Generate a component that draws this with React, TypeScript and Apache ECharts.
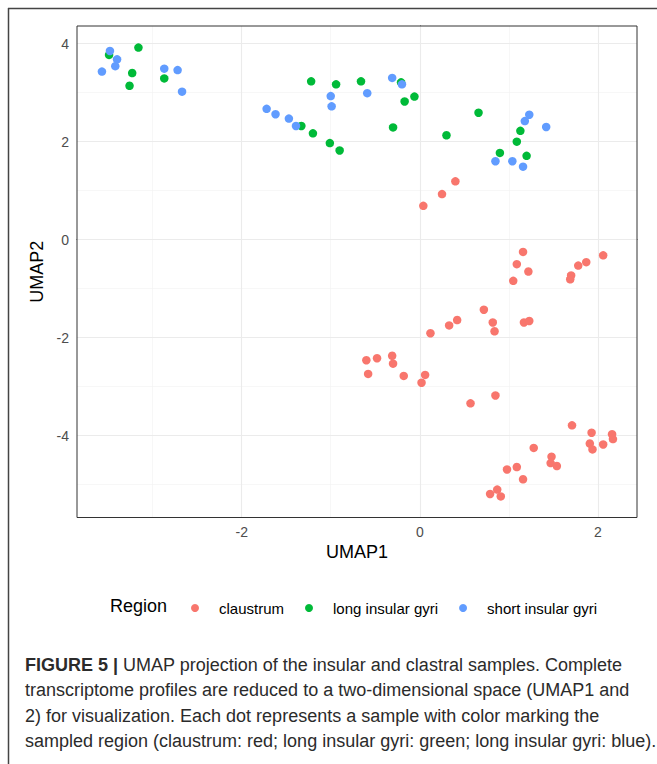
import React, { useEffect, useRef } from 'react';
import * as echarts from 'echarts';

const regions = ['claustrum', 'long insular gyri', 'short insular gyri'];
const regionColors = ['#F8766D', '#00BA38', '#619CFF'];

const claustrum: [number, number][] = [
  [0.04, 0.69], [0.25, 0.93], [0.40, 1.19],
  [1.16, -0.25], [1.09, -0.50], [1.22, -0.65], [1.05, -0.84],
  [1.70, -0.73], [1.69, -0.81], [1.78, -0.53], [1.87, -0.46], [2.06, -0.32],
  [0.72, -1.43], [0.82, -1.69], [0.84, -1.87], [1.17, -1.69], [1.23, -1.66],
  [0.42, -1.64], [0.33, -1.75], [0.12, -1.91],
  [-0.60, -2.46], [-0.48, -2.42], [-0.31, -2.37], [-0.30, -2.53], [-0.58, -2.74],
  [-0.18, -2.78], [0.06, -2.76], [0.02, -2.92],
  [0.57, -3.34], [0.85, -3.18],
  [1.71, -3.79], [1.93, -3.94], [2.16, -3.97], [2.17, -4.07], [2.06, -4.18],
  [1.91, -4.16], [1.94, -4.28], [1.28, -4.25], [1.48, -4.43], [1.47, -4.56],
  [1.54, -4.62], [1.09, -4.64], [0.98, -4.69], [1.16, -4.89],
  [0.87, -5.10], [0.79, -5.19], [0.91, -5.24],
];

const longInsularGyri: [number, number][] = [
  [-3.49, 3.77], [-3.16, 3.92], [-3.23, 3.40], [-3.26, 3.14], [-2.87, 3.29],
  [-1.33, 2.32], [-1.20, 2.17], [-1.22, 3.23], [-0.94, 3.17], [-1.01, 1.97], [-0.90, 1.82],
  [-0.66, 3.23], [-0.21, 3.21], [-0.17, 2.82], [-0.06, 2.92], [-0.30, 2.29],
  [0.30, 2.13], [0.66, 2.59], [0.90, 1.77], [1.09, 2.00], [1.13, 2.22], [1.20, 1.71],
];

const shortInsularGyri: [number, number][] = [
  [-3.57, 3.43], [-3.48, 3.85], [-3.40, 3.68], [-3.42, 3.54],
  [-2.87, 3.49], [-2.72, 3.46], [-2.67, 3.02],
  [-1.72, 2.67], [-1.62, 2.56], [-1.47, 2.47], [-1.39, 2.32],
  [-1.00, 2.93], [-0.99, 2.72], [-0.59, 2.99], [-0.31, 3.30], [-0.20, 3.17],
  [0.85, 1.60], [1.04, 1.60], [1.16, 1.49], [1.18, 2.42], [1.23, 2.55], [1.42, 2.30],
];

const xMajorTicks = [-2, 0, 2];
const xMinorTicks = [-3, -1, 1];
const yMajorTicks = [-4, -2, 0, 2, 4];
const yMinorTicks = [-5, -3, -1, 1, 3];

const xTitle = 'UMAP1';
const yTitle = 'UMAP2';
const legendTitle = 'Region';

const captionBold = 'FIGURE 5 |';
const captionLines = [
  ' UMAP projection of the insular and clastral samples. Complete',
  'transcriptome profiles are reduced to a two-dimensional space (UMAP1 and',
  '2) for visualization. Each dot represents a sample with color marking the',
  'sampled region (claustrum: red; long insular gyri: green; long insular gyri: blue).',
];

const FONT = "'Liberation Sans', Arial, Helvetica, sans-serif";

export default function App() {
  const ref = useRef<HTMLDivElement>(null);

  useEffect(() => {
    if (!ref.current) return;
    const chart = echarts.init(ref.current, null, { renderer: 'svg' });

    const majorStyle = { color: '#EBEBEB', width: 1.1, type: 'solid' };
    const minorStyle = { color: '#F2F2F2', width: 0.6, type: 'solid' };

    const gridLines = [
      ...xMinorTicks.map((v) => ({ xAxis: v, lineStyle: minorStyle })),
      ...yMinorTicks.map((v) => ({ yAxis: v, lineStyle: minorStyle })),
      ...xMajorTicks.map((v) => ({ xAxis: v, lineStyle: majorStyle })),
      ...yMajorTicks.map((v) => ({ yAxis: v, lineStyle: majorStyle })),
    ];

    const seriesData = [claustrum, longInsularGyri, shortInsularGyri];

    const captionY = [665, 690, 716, 741];

    const axisCommon = {
      type: 'value',
      nameLocation: 'middle',
      nameTextStyle: { fontSize: 18, color: '#000000', fontFamily: FONT },
      axisLine: { show: true, lineStyle: { color: '#333333', width: 1 } },
      splitLine: { show: false },
    };

    chart.setOption({
      animation: false,
      backgroundColor: '#ffffff',
      textStyle: { fontFamily: FONT },
      grid: {
        left: 77,
        top: 26,
        width: 560,
        height: 491.5,
        show: true,
        backgroundColor: 'transparent',
        borderColor: '#333333',
        borderWidth: 1,
        z: 3,
      },
      xAxis: {
        ...axisCommon,
        min: -3.85,
        max: 2.44,
        name: xTitle,
        nameGap: 25,
        axisTick: {
          show: true,
          customValues: xMajorTicks,
          length: 4,
          lineStyle: { color: '#333333', width: 1 },
        },
        axisLabel: {
          customValues: xMajorTicks,
          margin: 7,
          fontSize: 14,
          color: '#4D4D4D',
          fontFamily: FONT,
        },
      },
      yAxis: {
        ...axisCommon,
        min: -5.67,
        max: 4.36,
        name: yTitle,
        nameGap: 29,
        axisTick: {
          show: true,
          customValues: yMajorTicks,
          length: 4,
          lineStyle: { color: '#333333', width: 1 },
        },
        axisLabel: {
          customValues: yMajorTicks,
          margin: 8,
          fontSize: 14,
          color: '#4D4D4D',
          fontFamily: FONT,
        },
      },
      legend: {
        data: regions,
        left: 191,
        top: 600,
        padding: 0,
        orient: 'horizontal',
        icon: 'circle',
        itemWidth: 8,
        itemHeight: 8,
        itemGap: 21,
        selectedMode: false,
        textStyle: {
          fontSize: 15,
          color: '#000000',
          fontFamily: FONT,
          padding: [0, 0, 0, 15],
          lineHeight: 16,
        },
      },
      graphic: [
        {
          type: 'line',
          shape: { x1: 8.5, y1: 8, x2: 8.5, y2: 764 },
          style: { stroke: '#444444', lineWidth: 1.5 },
        },
        {
          type: 'line',
          shape: { x1: 8, y1: 8.5, x2: 657, y2: 8.5 },
          style: { stroke: '#444444', lineWidth: 1.5 },
        },
        {
          type: 'text',
          left: 110,
          top: 597,
          style: {
            text: legendTitle,
            fontSize: 18,
            fill: '#000000',
            fontFamily: FONT,
          },
        },
        ...captionLines.map((line, i) => ({
          type: 'text',
          x: 25,
          y: captionY[i],
          style: {
            text: i === 0 ? `{b|${captionBold}}${line}` : line,
            fontSize: 18,
            fill: '#2B2B2B',
            fontFamily: FONT,
            verticalAlign: 'middle',
            rich: {
              b: { fontWeight: 'bold', fontSize: 18, fill: '#2B2B2B', fontFamily: FONT },
            },
          },
        })),
      ],
      series: [
        {
          name: 'gridlines',
          type: 'scatter',
          data: [],
          z: 1,
          silent: true,
          markLine: {
            z: 1,
            silent: true,
            symbol: ['none', 'none'],
            label: { show: false },
            emphasis: { disabled: true },
            data: gridLines,
          },
        },
        ...regions.map((name, i) => ({
          name,
          type: 'scatter',
          data: seriesData[i],
          symbol: 'circle',
          symbolSize: 8.5,
          z: 4,
          itemStyle: { color: regionColors[i], opacity: 1 },
          emphasis: { disabled: true },
        })),
      ],
    });

    return () => chart.dispose();
  }, []);

  return (
    <div
      ref={ref}
      style={{ position: 'fixed', left: 0, top: 0, width: 657, height: 764, background: '#fff' }}
    />
  );
}
